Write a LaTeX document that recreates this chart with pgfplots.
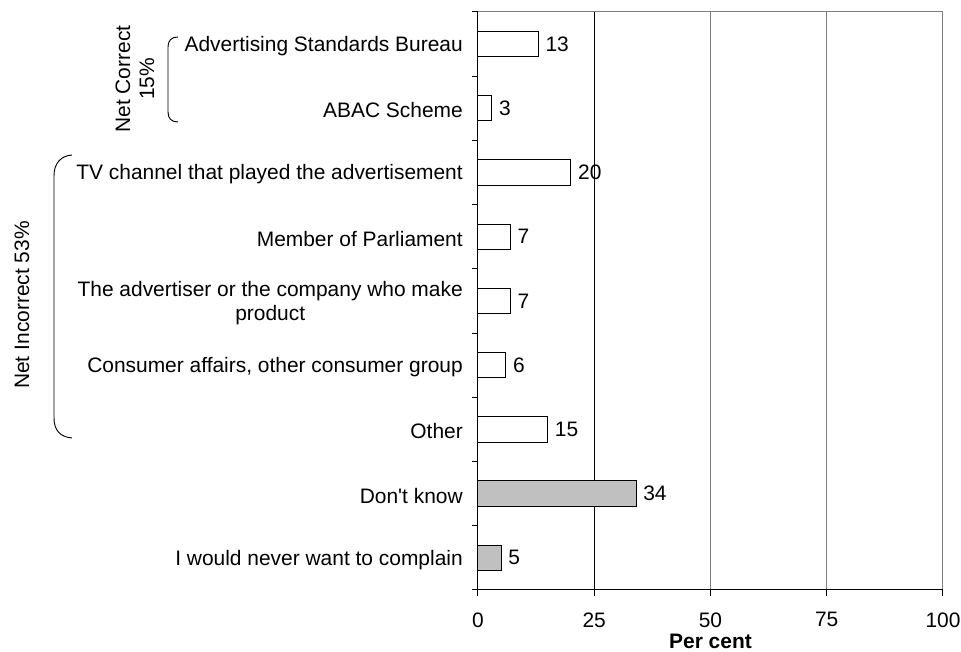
\documentclass[border=0pt]{standalone}
\usepackage{fontspec}
\setmainfont{Liberation Sans}[Ligatures=TeXOff]
\usepackage{pgfplots}
\pgfplotsset{compat=1.18}

\definecolor{barGrey}{HTML}{C0C0C0}
\definecolor{gridGrey}{HTML}{808080}

\begin{document}
\fontsize{15.7pt}{18pt}\selectfont
\begin{tikzpicture}
\begin{axis}[
  scale only axis, width=348.75pt, height=433.5pt,
  xbar, bar width=19pt, bar shift=0pt,
  xmin=0, xmax=100, ymin=-0.5, ymax=8.5,
  axis lines=left, axis line style={-, black, line width=0.75pt},
  /pgf/number format/assume math mode=true,
  xtick={0,25,50,75,100},
  xmajorgrids, grid style={gridGrey, line width=0.75pt},
  tick align=outside, major tick length=4.5pt,
  tick style={black, line width=0.75pt},
  ytick={-0.5,0.5,...,8.5}, yticklabels={},
  extra y ticks={0,1,2,3,4,5,6,7,8},
  extra y tick labels={I would never want to complain, Don't know, Other,
    {Consumer affairs, other consumer group},
    The advertiser or the company who make\\product,
    Member of Parliament, TV channel that played the advertisement,
    ABAC Scheme, Advertising Standards Bureau},
  extra y tick style={major tick length=0pt},
  yticklabel style={align=center, font=\fontsize{15.7pt}{18.5pt}\selectfont, xshift=-6pt, yshift=-1.5pt},
  xticklabel style={font=\fontsize{15.7pt}{18pt}\selectfont, yshift=-7pt},
  xlabel={\textbf{Per cent}},
  xlabel style={font=\fontsize{15.7pt}{18pt}\selectfont, yshift=6pt},
  nodes near coords,
  every node near coord/.append style={anchor=west, font=\fontsize{15.7pt}{18pt}\selectfont, inner sep=5pt},
  clip=false,
]
% the 25 per cent grid line is drawn darker than the others
\draw[black, line width=0.75pt] (axis cs:25,-0.5) -- (axis cs:25,8.5);
% answers counted as correct or incorrect
\addplot[draw=black, line width=0.75pt, fill=white] coordinates {
  (15,2) (6,3) (7,4) (7,5) (20,6) (3,7) (13,8)
};
% no useful answer
\addplot[draw=black, line width=0.75pt, fill=barGrey] coordinates {
  (5,0) (34,1)
};
\draw[gridGrey, line width=0.75pt] (axis cs:0,8.5) -- (axis cs:100,8.5);
\end{axis}

% group brackets to the left of the category names
\begin{scope}[shift={(-358.5pt,442.5pt)}, x=0.75pt, y=-0.75pt]
  \draw[line width=0.7pt] (178,37) .. controls (171,37) and (168,41) .. (168,47)
    -- (168,112) .. controls (168,118) and (171,122) .. (178,122);
  \node[rotate=90, align=center, inner sep=0pt] at (135,79)
    {Net Correct\\15\%};
  \draw[line width=0.7pt] (72,155) .. controls (60,156) and (54,164) .. (54,176)
    -- (54,418) .. controls (54,430) and (60,437) .. (72,438);
  \node[rotate=90, inner sep=0pt] at (22,305) {Net Incorrect 53\%};
\end{scope}

\pgfresetboundingbox
\path (-358.5pt,-46.5pt) rectangle (362.25pt,442.5pt);
\end{tikzpicture}
\end{document}
